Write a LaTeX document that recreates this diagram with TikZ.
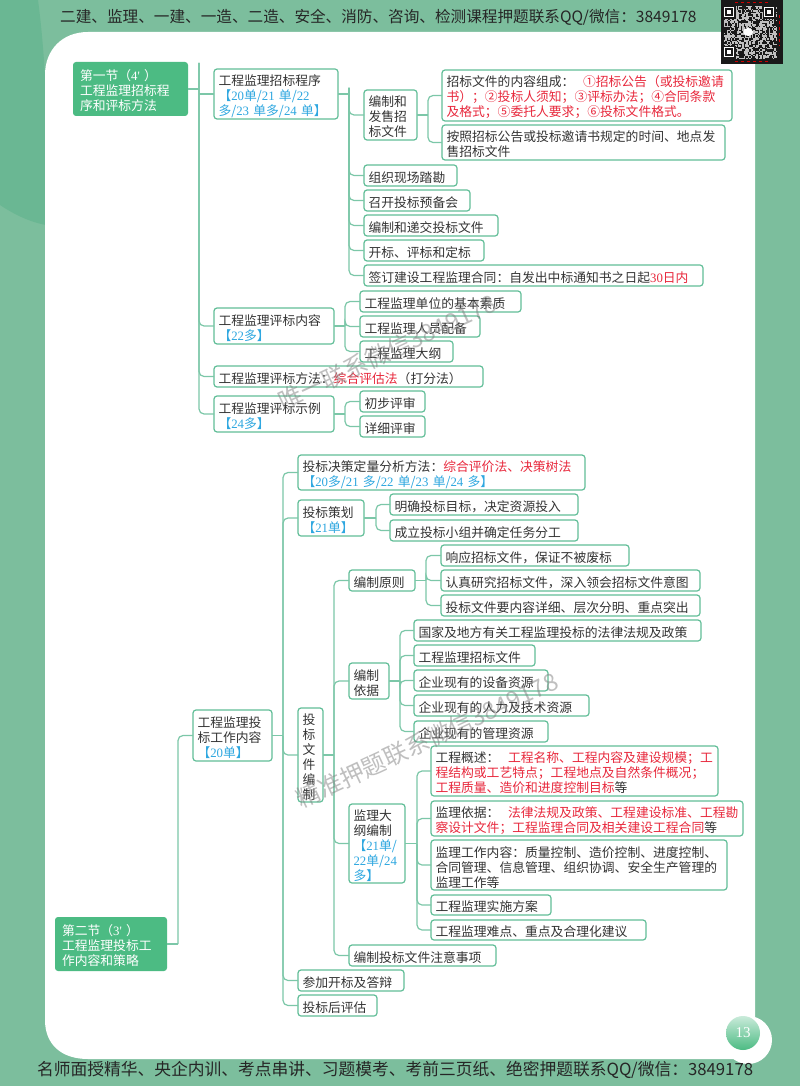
\documentclass[tikz,border=0pt]{standalone}
\usepackage{fontspec}
\setmainfont{Noto Sans CJK SC}
\newfontfamily\dg{Liberation Serif}
\definecolor{pagegreen}{HTML}{7CBE9D}
\definecolor{darkgreen}{HTML}{6AB793}
\definecolor{secgreen}{HTML}{4CBB83}
\definecolor{edgegreen}{HTML}{62BE98}
\definecolor{linegreen}{HTML}{7CC7A8}
\definecolor{hotred}{HTML}{E8283C}
\definecolor{cueblue}{HTML}{2EA7E0}
\definecolor{inkgray}{HTML}{333333}
\newcommand{\hot}[1]{\textcolor{hotred}{#1}}
\newcommand{\cue}[1]{\textcolor{cueblue}{#1}}
\tikzset{
  bx/.style 2 args={draw=edgegreen, fill=white, line width=1.2pt, rounded corners=3pt, anchor=north west, outer sep=0pt,
    inner xsep=4.5pt, inner ysep=0pt, minimum width=#1pt, minimum height=#2pt, text width=#1pt-9pt, align=left,
    text=inkgray, font=\fontsize{12.8}{15}\selectfont, execute at begin node={\leavevmode\rule{0pt}{15pt}}},
  sec/.style 2 args={bx={#1}{#2}, draw=none, fill=secgreen, text=white, inner xsep=7pt, text width=#1pt-14pt},
  lnk/.style={draw=linegreen, line width=1.2pt, rounded corners=5pt},
  wmark/.style={text=gray, opacity=0.5, font=\fontsize{24}{24}\selectfont},
  band/.style={anchor=west, text=black!85, inner sep=0pt}
}
\begin{document}
\begin{tikzpicture}[x=1pt, y=-1pt]
          \useasboundingbox (0,0) rectangle (800,1086);
          % page background
          \fill[pagegreen] (0,0) rectangle (800,1086);
          \fill[darkgreen] (0,0) -- (38,0) .. controls (46,60) and (50,150) .. (46,225) .. controls (30,222) and (15,215) .. (0,205) -- cycle;
          \fill[white] (45,75) .. controls (45,50) and (62,32) .. (88,32) -- (742,32) .. controls (750,32) and (755,37) .. (755,45) -- (755,1059) -- (88,1059) .. controls (62,1059) and (45,1045) .. (45,1020) -- cycle;
          % page number
          \fill[white] (748,1040) circle [radius=24pt];
          \shade[top color=white!70!secgreen, bottom color=secgreen] (743,1033) circle [radius=17pt];
          \node[text=white, font=\dg\fontsize{15}{15}\selectfont] (pageno) at (743,1033) {13};
          % qr code
          \fill[black!90] (721,0) rectangle (783,64);
          \pgfmathsetseed{3849}
          \foreach \i in {0,...,37} \foreach \j in {0,...,37} {
            \pgfmathparse{rnd>0.5 ? 1 : 0}
            \ifnum\pgfmathresult=1 \fill[white!75!black] (724+1.4*\i,6+1.4*\j) rectangle +(1.4,1.4); \fi
          }
          \foreach \x/\y in {724/7, 764/7, 724/47} {
            \fill[black!90] (\x-1,\y-1) rectangle +(13,13);
            \draw[white, line width=1.3pt] (\x+0.5,\y+0.5) rectangle +(9,9);
            \fill[white] (\x+3,\y+3) rectangle +(4,4);
          }
          \fill[white] (748,32) ellipse [x radius=5pt, y radius=4pt];
          \draw[red!80!black, dashed, line width=1pt] (735,2.5) -- (768,2.5);
          \draw[red!80!black, dashed, line width=1pt] (735,61.5) -- (768,61.5);
          \draw[red!80!black, dashed, line width=1pt] (779.5,15) -- (779.5,46);
          % top and bottom lines
          \node[band, font=\fontsize{15.62}{16}\selectfont] (toptext) at (60,17) {二建、监理、一建、一造、二造、安全、消防、咨询、检测课程押题联系QQ/微信：3849178};
          \node[band, font=\fontsize{16.75}{17}\selectfont] (bottomtext) at (37,1070) {名师面授精华、央企内训、考点串讲、习题模考、考前三页纸、绝密押题联系QQ/微信：3849178};

          % section 1
          \node[sec={115}{54}] (sec1) at (73,62) {第一节（{\dg 4' }）\\工程监理招标程\\序和评标方法};
          \node[bx={124}{50}] (proc) at (214,69) {工程监理招标程序\\\cue{【{\dg 20}单/{\dg 21 }单/{\dg 22}}\\\cue{多/{\dg 23 }单多/{\dg 24 }单】}};
          \node[bx={53}{50}] (docs) at (364,90) {编制和\\发售招\\标文件};
          \node[bx={290}{51}] (docsa) at (442,70) {招标文件的内容组成：~~\hot{①招标公告（或投标邀请}\\\hot{书）；②投标人须知；③评标办法；④合同条款}\\\hot{及格式；⑤委托人要求；⑥投标文件格式。}};
          \node[bx={283}{35}] (docsb) at (442,125) {按照招标公告或投标邀请书规定的时间、地点发\\售招标文件};
          \node[bx={93}{21}] (site) at (364,165) {组织现场踏勘};
          \node[bx={106}{21}] (meet) at (364,190) {召开投标预备会};
          \node[bx={134}{21}] (submit) at (364,215) {编制和递交投标文件};
          \node[bx={120}{21}] (open) at (364,240) {开标、评标和定标};
          \node[bx={339}{21}] (sign) at (364,265) {签订建设工程监理合同：自发出中标通知书之日起\hot{{\dg 30}日内}};
          \node[bx={120}{36}] (items) at (214,308) {工程监理评标内容\\\cue{【{\dg 22}多】}};
          \node[bx={161}{21}] (itema) at (360,291) {工程监理单位的基本素质};
          \node[bx={120}{21}] (itemb) at (360,316) {工程监理人员配备};
          \node[bx={93}{21}] (itemc) at (360,341) {工程监理大纲};
          \node[bx={269}{21}] (meth) at (214,366) {工程监理评标方法：\hot{综合评估法}（打分法）};
          \node[bx={120}{36}] (samp) at (214,396) {工程监理评标示例\\\cue{【{\dg 24}多】}};
          \node[bx={65}{21}] (sampa) at (360,391) {初步评审};
          \node[bx={65}{21}] (sampb) at (360,416) {详细评审};

          % section 2
          \node[sec={112}{54}] (sec2) at (55,917) {第二节（{\dg 3' }）\\工程监理投标工\\作内容和策略};
          \node[bx={79}{51}] (work) at (193,710) {工程监理投\\标工作内容\\\cue{【{\dg 20}单】}};
          \node[bx={287}{35}] (quant) at (298,455) {投标决策定量分析方法：\hot{综合评价法、决策树法}\\\cue{【{\dg 20}多/{\dg 21 }多/{\dg 22 }单/{\dg 23 }单/{\dg 24 }多】}};
          \node[bx={66}{36}] (plan) at (298,500) {投标策划\\\cue{【{\dg 21}单】}};
          \node[bx={188}{21}] (plana) at (390,494) {明确投标目标，决定资源投入};
          \node[bx={188}{21}] (planb) at (390,520) {成立投标小组并确定任务分工};
          \node[bx={25}{94}] (prep) at (298,708) {投\\标\\文\\件\\编\\制};
          \node[bx={66}{21}] (prin) at (349,570) {编制原则};
          \node[bx={188}{21}] (prina) at (441,545) {响应招标文件，保证不被废标};
          \node[bx={259}{21}] (prinb) at (441,570) {认真研究招标文件，深入领会招标文件意图};
          \node[bx={259}{21}] (princ) at (441,595) {投标文件要内容详细、层次分明、重点突出};
          \node[bx={40}{36}] (basis) at (349,663) {编制\\依据};
          \node[bx={287}{21}] (basisa) at (414,620) {国家及地方有关工程监理投标的法律法规及政策};
          \node[bx={121}{21}] (basisb) at (414,645) {工程监理招标文件};
          \node[bx={134}{21}] (basisc) at (414,670) {企业现有的设备资源};
          \node[bx={175}{21}] (basisd) at (414,695) {企业现有的人力及技术资源};
          \node[bx={134}{21}] (basise) at (414,721) {企业现有的管理资源};
          \node[bx={56}{79}] (outl) at (349,804) {监理大\\纲编制\\\cue{【{\dg 21}单/}\\\cue{{\dg 22}单/{\dg 24}}\\\cue{多】}};
          \node[bx={287}{50}] (outla) at (431,746) {工程概述：~~\hot{工程名称、工程内容及建设规模；工}\\\hot{程结构或工艺特点；工程地点及自然条件概况；}\\\hot{工程质量、造价和进度控制目标}等};
          \node[bx={312}{35}] (outlb) at (431,801) {监理依据：~~\hot{法律法规及政策、工程建设标准、工程勘}\\\hot{察设计文件；工程监理合同及相关建设工程合同}等};
          \node[bx={296}{50}] (outlc) at (431,840) {监理工作内容：质量控制、造价控制、进度控制、\\合同管理、信息管理、组织协调、安全生产管理的\\监理工作等};
          \node[bx={120}{20}] (outld) at (431,895) {工程监理实施方案};
          \node[bx={215}{20}] (outle) at (431,920) {工程监理难点、重点及合理化建议};
          \node[bx={147}{21}] (note) at (349,945) {编制投标文件注意事项};
          \node[bx={106}{21}] (reply) at (298,970) {参加开标及答辩};
          \node[bx={79}{21}] (after) at (298,995) {投标后评估};

          % connectors, section 1
          \coordinate (t1) at (199,63);
          \draw[lnk] (sec1.east) -- (sec1.east -| t1);
          \draw[lnk] (t1 |- proc.west) -- (proc.west);
          \foreach \c in {items, meth, samp} \draw[lnk] (t1) |- (\c.west);
          \coordinate (t2) at (349,88);
          \draw[lnk] (proc.east) -- (proc.east -| t2);
          \foreach \c in {docs, site, meet, submit, open, sign} \draw[lnk] (t2) |- (\c.west);
          \coordinate (j1) at ([xshift=11pt]docs.east);
          \draw[lnk] (docs.east) -- (j1);
          \foreach \c in {docsa, docsb} \draw[lnk] (j1) |- (\c.west);
          \coordinate (j2) at ([xshift=11pt]items.east);
          \draw[lnk] (items.east) -- (j2);
          \foreach \c in {itema, itemb, itemc} \draw[lnk] (j2) |- (\c.west);
          \coordinate (j3) at ([xshift=11pt]samp.east);
          \draw[lnk] (samp.east) -- (j3);
          \foreach \c in {sampa, sampb} \draw[lnk] (j3) |- (\c.west);

          % connectors, section 2
          \coordinate (j4) at ([xshift=11pt]sec2.east);
          \draw[lnk] (sec2.east) -- (j4);
          \draw[lnk] (j4) |- (work.west);
          \coordinate (j5) at ([xshift=11pt]work.east);
          \draw[lnk] (work.east) -- (j5);
          \foreach \c in {quant, plan, prep, reply, after} \draw[lnk] (j5) |- (\c.west);
          \coordinate (j6) at ([xshift=12pt]plan.east);
          \draw[lnk] (plan.east) -- (j6);
          \foreach \c in {plana, planb} \draw[lnk] (j6) |- (\c.west);
          \coordinate (j7) at ([xshift=11pt]prep.east);
          \draw[lnk] (prep.east) -- (j7);
          \foreach \c in {prin, basis, outl, note} \draw[lnk] (j7) |- (\c.west);
          \coordinate (j8) at ([xshift=11pt]prin.east);
          \draw[lnk] (prin.east) -- (j8);
          \foreach \c in {prina, prinb, princ} \draw[lnk] (j8) |- (\c.west);
          \coordinate (j9) at ([xshift=11pt]basis.east);
          \draw[lnk] (basis.east) -- (j9);
          \foreach \c in {basisa, basisb, basisc, basisd, basise} \draw[lnk] (j9) |- (\c.west);
          \coordinate (j10) at ([xshift=12pt]outl.east);
          \draw[lnk] (outl.east) -- (j10);
          \foreach \c in {outla, outlb, outlc, outld, outle} \draw[lnk] (j10) |- (\c.west);

          % watermarks
          \node[wmark, rotate=25] (wm1) at (387,352) {唯一联系微信3849178};
          \node[wmark, rotate=25] (wm2) at (427,740) {精准押题联系微信3849178};
        \end{tikzpicture}
\end{document}
